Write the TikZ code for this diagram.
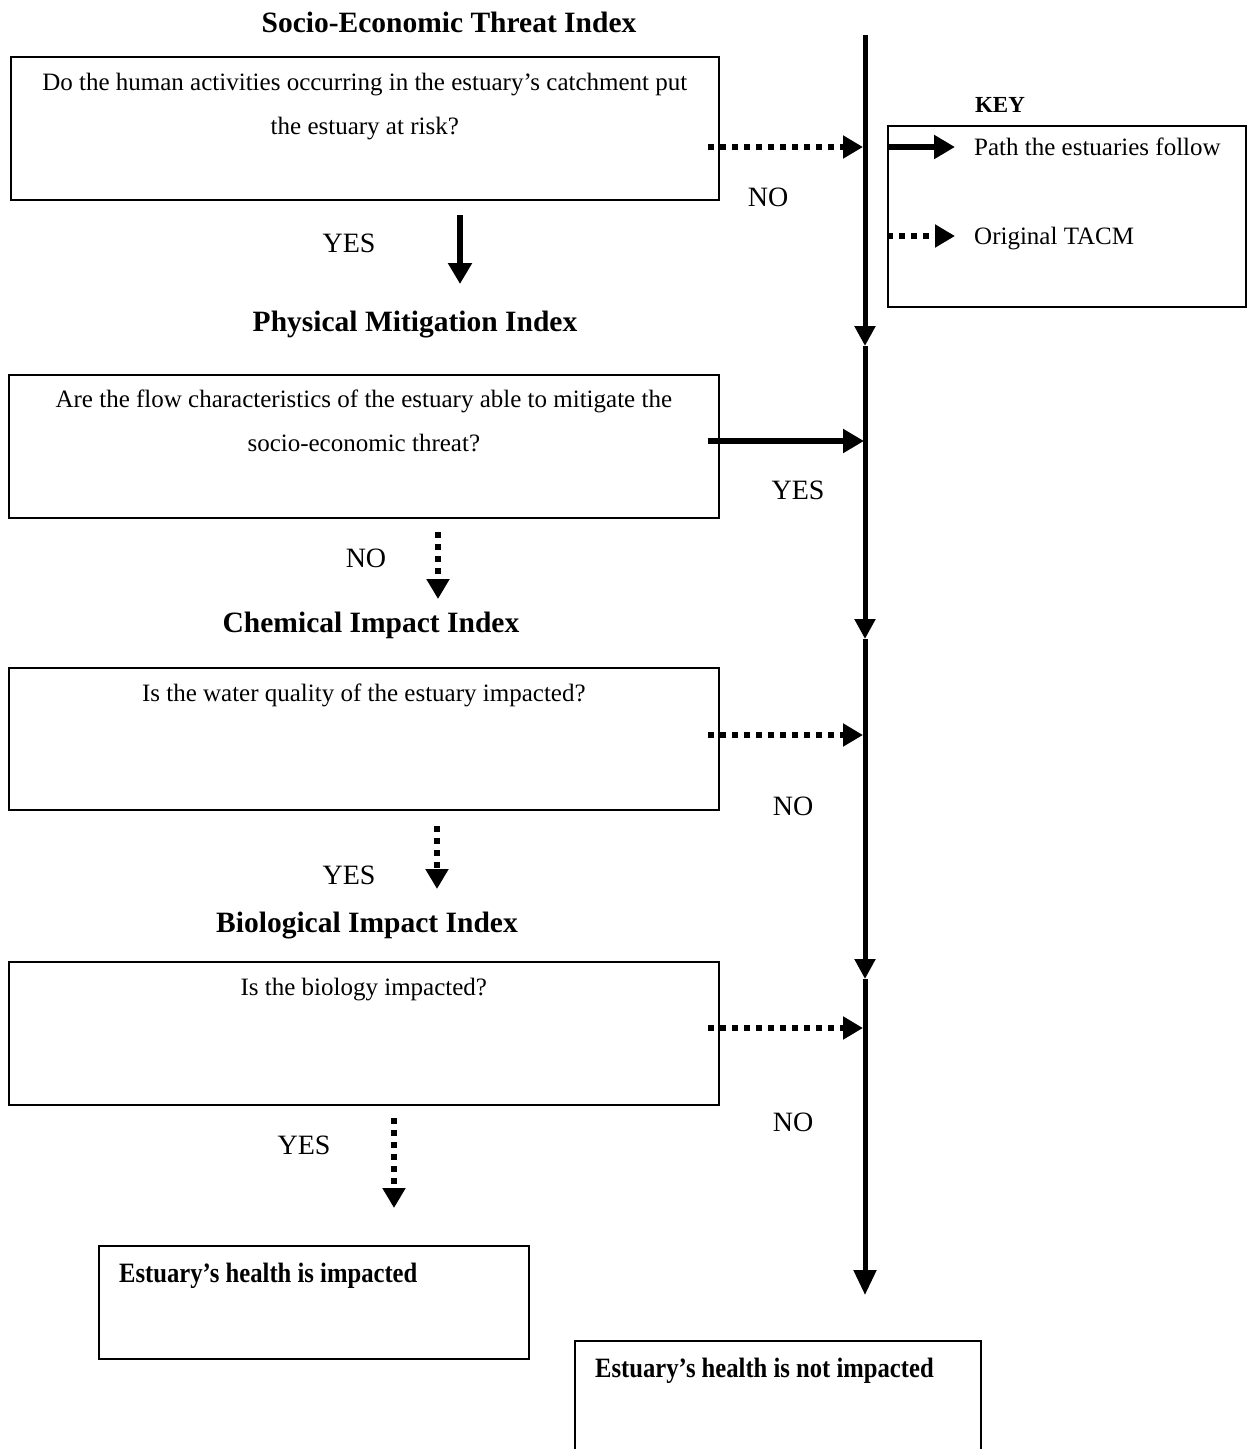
\documentclass[tikz,border=0pt]{standalone}
\usepackage{fontspec}
\setmainfont{Liberation Serif}
\usetikzlibrary{arrows.meta}
\newcommand{\condensed}[1]{\scalebox{0.88}[1]{#1}}
\begin{document}
\begin{tikzpicture}[x=1pt,y=-1pt,
  qbox/.style={draw, line width=1.6pt, anchor=north west, inner sep=0pt},
  qtext/.style={anchor=north, align=center, inner sep=0pt, font=\fontsize{25}{44}\selectfont},
  heading/.style={anchor=base, inner sep=0pt, font=\fontsize{29.5}{34}\selectfont\bfseries},
  answer/.style={anchor=base, inner sep=0pt, font=\fontsize{28}{32}\selectfont},
  keytext/.style={anchor=base west, inner sep=0pt, font=\fontsize{25}{30}\selectfont},
  keyhead/.style={anchor=base, inner sep=0pt, font=\fontsize{23}{28}\selectfont\bfseries},
  restext/.style={anchor=base west, inner sep=0pt, font=\fontsize{28}{32}\selectfont\bfseries},
  flow/.style={line width=6.5pt, -{Triangle[length=21pt,width=23pt]}},
  orig/.style={line width=6pt, dash pattern=on 6pt off 6pt, -{Triangle[length=20pt,width=22pt]}},
  spine/.style={line width=5pt, -{Triangle[length=20pt,width=20pt]}},
  spineend/.style={line width=5pt, -{Triangle[length=25pt,width=22pt]}},
]
\useasboundingbox (0,0) rectangle (1254,1449);

% ---- headings ----
\node[heading] (h1) at (449,32) {Socio-Economic Threat Index};
\node[heading] (h2) at (415,331) {Physical Mitigation Index};
\node[heading] (h3) at (371,632) {Chemical Impact Index};
\node[heading] (h4) at (367,932) {Biological Impact Index};

% ---- question boxes ----
\node[qbox, minimum width=708pt, minimum height=143pt] (q1) at (10,56) {};
\node[qtext] (q1t) at ([yshift=-17pt]q1.north)
  {Do the human activities occurring in the estuary’s catchment put\\the estuary at risk?};
\node[qbox, minimum width=710pt, minimum height=143pt] (q2) at (8,374) {};
\node[qtext] (q2t) at ([yshift=-16pt]q2.north)
  {Are the flow characteristics of the estuary able to mitigate the\\socio-economic threat?};
\node[qbox, minimum width=710pt, minimum height=142pt] (q3) at (8,667) {};
\node[qtext] (q3t) at ([yshift=-17pt]q3.north) {Is the water quality of the estuary impacted?};
\node[qbox, minimum width=710pt, minimum height=143pt] (q4) at (8,961) {};
\node[qtext] (q4t) at ([yshift=-17pt]q4.north) {Is the biology impacted?};

% ---- outcome boxes ----
\node[qbox, minimum width=430pt, minimum height=113pt] (r1) at (98,1245) {};
\node[restext] (r1t) at ([xshift=21pt,yshift=-37pt]r1.north west) {\condensed{Estuary’s health is impacted}};
\node[qbox, minimum width=406pt, minimum height=140pt] (r2) at (574,1340) {};
\node[restext] (r2t) at ([xshift=21pt,yshift=-37pt]r2.north west) {\condensed{Estuary’s health is not impacted}};

% ---- key ----
\node[keyhead] (keyh) at (1000,112) {KEY};
\node[qbox, minimum width=358pt, minimum height=181pt] (key) at (887,125) {};
\node[keytext] (k1) at ([xshift=87pt,yshift=-30pt]key.north west) {Path the estuaries follow};
\node[keytext] (k2) at ([xshift=87pt,yshift=-119pt]key.north west) {Original TACM};
\coordinate (k1s) at (887,147);
\coordinate (k1e) at (955,147);
\coordinate (k2s) at (887,236);
\coordinate (k2e) at (955,236);
\draw[flow] (k1s) -- (k1e);
\draw[orig] (k2s) -- (k2e);

% ---- main "not impacted" spine ----
\coordinate (s0) at (865,35);
\coordinate (s1) at (865,346);
\coordinate (s2) at (865,639);
\coordinate (s3) at (865,979);
\coordinate (s4) at (865,1295);
\draw[spine] (s0) -- (s1);
\draw[spine] (s1) -- (s2);
\draw[spine] (s2) -- (s3);
\draw[spineend] (s3) -- (s4);

% ---- side branches into the spine ----
\coordinate (o1) at (708,147);
\coordinate (o2) at (708,441);
\coordinate (o3) at (708,735);
\coordinate (o4) at (708,1028);
\draw[orig, shorten >=2pt] (o1) -- (o1 -| s0);
\draw[flow, shorten >=1pt] (o2) -- (o2 -| s0);
\draw[orig, shorten >=2pt] (o3) -- (o3 -| s0);
\draw[orig, shorten >=2pt] (o4) -- (o4 -| s0);
\node[answer] (a1) at (768,206) {NO};
\node[answer] (a2) at (798,499) {YES};
\node[answer] (a3) at (793,815) {NO};
\node[answer] (a4) at (793,1131) {NO};

% ---- downward steps ----
\coordinate (d1a) at (460,215);
\coordinate (d1b) at (460,284);
\coordinate (d2a) at (438,532);
\coordinate (d2b) at (438,599);
\coordinate (d3a) at (437,826);
\coordinate (d3b) at (437,889);
\coordinate (d4a) at (394,1118);
\coordinate (d4b) at (394,1208);
\draw[flow] (d1a) -- (d1b);
\draw[orig] (d2a) -- (d2b);
\draw[orig] (d3a) -- (d3b);
\draw[orig] (d4a) -- (d4b);
\node[answer] (b1) at (349,252) {YES};
\node[answer] (b2) at (366,567) {NO};
\node[answer] (b3) at (349,884) {YES};
\node[answer] (b4) at (304,1154) {YES};
\end{tikzpicture}
\end{document}
